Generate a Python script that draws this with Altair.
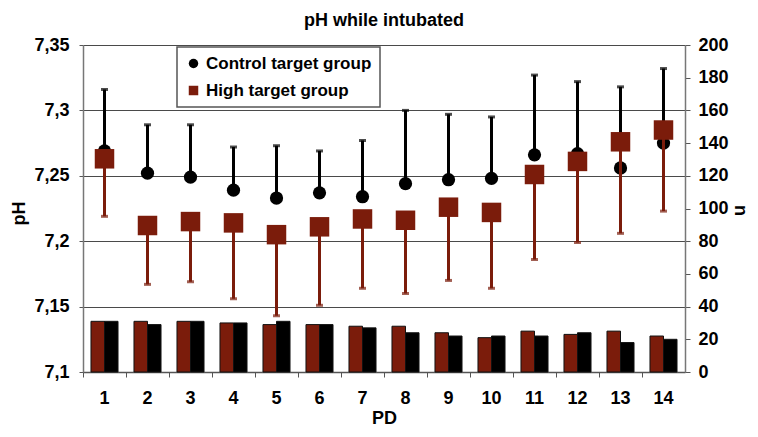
import altair as alt
import pandas as pd

PD = list(range(1, 15))
ctrl_mean = [7.269, 7.252, 7.249, 7.239, 7.233, 7.237, 7.234, 7.244, 7.247, 7.248, 7.266, 7.267, 7.256, 7.275]
ctrl_upper = [7.316, 7.289, 7.289, 7.272, 7.273, 7.269, 7.277, 7.300, 7.297, 7.295, 7.327, 7.322, 7.318, 7.332]
high_mean = [7.263, 7.212, 7.215, 7.214, 7.205, 7.211, 7.217, 7.216, 7.226, 7.222, 7.251, 7.261, 7.276, 7.285]
high_lower = [7.219, 7.167, 7.169, 7.156, 7.143, 7.151, 7.164, 7.160, 7.170, 7.164, 7.186, 7.199, 7.206, 7.223]
n_high = [31, 31, 31, 30, 29, 29, 28, 28, 24, 21, 25, 23, 25, 22]
n_ctrl = [31, 29, 31, 30, 31, 29, 27, 24, 22, 22, 22, 24, 18, 20]

CTRL = "Control target group"
HIGH = "High target group"
RED = "#7b1c0b"
FONT = "Liberation Sans, Arial, Helvetica, sans-serif"

ctrl_df = pd.DataFrame({"PD": PD, "mean": ctrl_mean, "end": ctrl_upper, "group": CTRL, "n": n_ctrl})
high_df = pd.DataFrame({"PD": PD, "mean": high_mean, "end": high_lower, "group": HIGH, "n": n_high})

x_enc = alt.X(
    "PD:O",
    scale=alt.Scale(paddingInner=0, paddingOuter=0),
    axis=alt.Axis(
        title="PD", labelAngle=0, bandPosition=0, tickSize=5, labelPadding=12,
        domainColor="#555", tickColor="#555", domainWidth=1.5,
        titleY=51, titleBaseline="alphabetic",
    ),
)
off_enc = alt.XOffset("group:N", scale=alt.Scale(domain=[HIGH, CTRL], paddingOuter=0.59, paddingInner=0))

n_scale = alt.Scale(domain=[0, 200], nice=False)
n_axis = alt.Axis(
    orient="right", values=list(range(0, 201, 20)), grid=False, title="n",
    tickSize=5, labelPadding=8, domainColor="#777", tickColor="#555", domainWidth=1.5,
    titleAngle=90, titleX=54, titleY=165, titleBaseline="middle", titleAlign="center",
)

bars_high = alt.Chart(high_df).mark_bar(color=RED, stroke="#111", strokeWidth=1).encode(
    x=x_enc, xOffset=off_enc, y=alt.Y("n:Q", scale=n_scale, axis=n_axis)
)
bars_ctrl = alt.Chart(ctrl_df).mark_bar(color="#000000", stroke="#111", strokeWidth=1).encode(
    x=x_enc, xOffset=off_enc, y=alt.Y("n:Q", scale=n_scale, axis=n_axis)
)
bars = alt.layer(bars_high, bars_ctrl)

ph_scale = alt.Scale(domain=[7.1, 7.35], nice=False, zero=False)
ph_axis = alt.Axis(
    orient="left", values=[7.1, 7.15, 7.2, 7.25, 7.3, 7.35], grid=True, title="pH",
    labelExpr="replace(format(datum.value, '.2~f'), '.', ',')",
    tickSize=4, labelPadding=10, domainColor="#777", tickColor="#555", domainWidth=1.5,
    gridColor="#4a4a4a", gridWidth=1.2,
    titleAngle=-90, titleX=-64, titleY=168, titleBaseline="middle", titleAlign="center",
)
y_mean = alt.Y("mean:Q", scale=ph_scale, axis=ph_axis)

color_enc = alt.Color("group:N", scale=alt.Scale(domain=[CTRL, HIGH], range=["#000000", RED]),
                      legend=alt.Legend(title=None))
shape_enc = alt.Shape("group:N", scale=alt.Scale(domain=[CTRL, HIGH], range=["circle", "square"]),
                      legend=alt.Legend(title=None))

ctrl_rule = alt.Chart(ctrl_df).mark_rule(color="#000000", strokeWidth=3).encode(
    x=x_enc, y=y_mean, y2="end:Q")
ctrl_cap = alt.Chart(ctrl_df).mark_tick(color="#000000", thickness=3, size=7).encode(
    x=x_enc, y=alt.Y("end:Q", scale=ph_scale))
ctrl_pts = alt.Chart(ctrl_df).mark_point(filled=True, size=175, opacity=1).encode(
    x=x_enc, y=y_mean, color=color_enc, shape=shape_enc)
high_rule = alt.Chart(high_df).mark_rule(color=RED, strokeWidth=3).encode(
    x=x_enc, y=y_mean, y2="end:Q")
high_cap = alt.Chart(high_df).mark_tick(color=RED, thickness=3, size=7).encode(
    x=x_enc, y=alt.Y("end:Q", scale=ph_scale))
high_pts = alt.Chart(high_df).mark_point(filled=True, size=380, opacity=1).encode(
    x=x_enc, y=y_mean, color=color_enc, shape=shape_enc)

ph = alt.layer(ctrl_rule, ctrl_cap, ctrl_pts, high_rule, high_cap, high_pts)

chart = alt.layer(bars, ph).resolve_scale(y="independent").properties(
    width=602, height=327,
    autosize=alt.AutoSizeParams(type="none"),
    padding={"left": 75, "top": 37, "right": 64, "bottom": 57},
    title=alt.Title("pH while intubated", fontSize=18, font=FONT, fontWeight="bold",
                    anchor="middle", frame="group", offset=6, color="#000"),
).configure_view(strokeWidth=0).configure_axis(
    labelFont=FONT, labelFontSize=18, labelFontWeight="bold", labelColor="#000",
    titleFont=FONT, titleFontSize=18, titleFontWeight="bold", titleColor="#000",
).configure_legend(
    orient="none", legendX=94, legendY=2, strokeColor="#555", strokeWidth=1.5,
    padding=8, labelFont=FONT, labelFontSize=17, labelFontWeight="bold", labelColor="#000",
    symbolSize=90, rowPadding=9, labelOffset=4, symbolStrokeWidth=0, fillColor="#ffffff",
    labelLimit=300,
)

chart.save("out.html", embed_options={"renderer": "svg", "actions": False})
